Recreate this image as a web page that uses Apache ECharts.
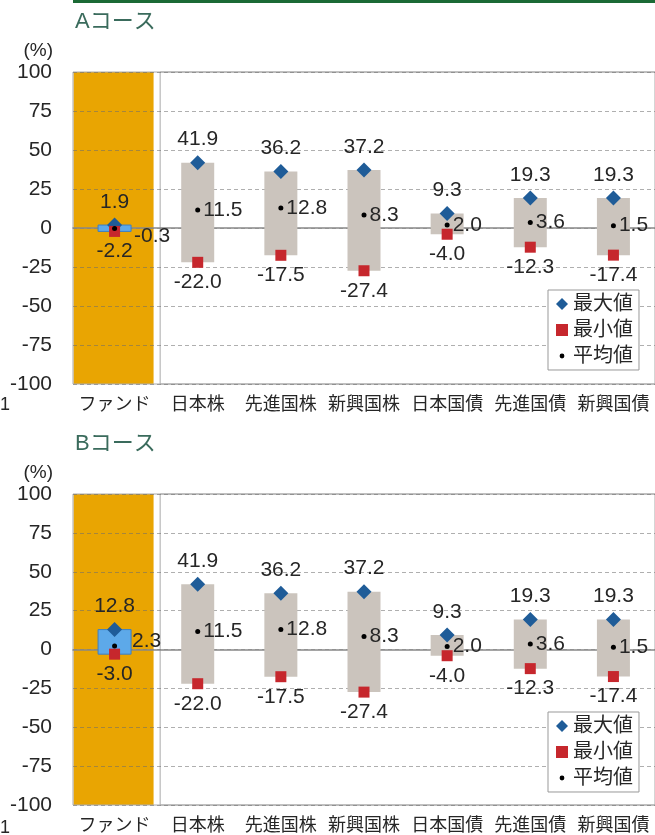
<!DOCTYPE html>
<html>
<head>
<meta charset="utf-8">
<script src="https://cdn.jsdelivr.net/npm/echarts@6/dist/echarts.min.js"></script>
<style>
  html, body { margin: 0; padding: 0; background: #fff; }
  #chart { width: 655px; height: 835px; }
</style>
</head>
<body>
<div id="chart"></div>
<script>
// カテゴリ
const categories = ['ファンド', '日本株', '先進国株', '新興国株', '日本国債', '先進国債', '新興国債']
// Aコース
const maxA = [1.9, 41.9, 36.2, 37.2, 9.3, 19.3, 19.3]
const minA = [-2.2, -22.0, -17.5, -27.4, -4.0, -12.3, -17.4]
const avgA = [-0.3, 11.5, 12.8, 8.3, 2.0, 3.6, 1.5]
// Bコース
const maxB = [12.8, 41.9, 36.2, 37.2, 9.3, 19.3, 19.3]
const minB = [-3.0, -22.0, -17.5, -27.4, -4.0, -12.3, -17.4]
const avgB = [2.3, 11.5, 12.8, 8.3, 2.0, 3.6, 1.5]

const FONT = '"Liberation Sans", "Noto Sans CJK JP", sans-serif'
const TXT = '#262626'
const fmt = p => Number(p.value).toFixed(1)
const dotIcon = 'path://M0,0h0.01v0.01h-0.01zM10,10h0.01v0.01h-0.01zM5,3a2,2 0 1 0 0.01,0z'

// 背景（ファンド列のオレンジ + 資産の枠）
const renderBack = (params, api) => {
    const i = api.value(0)
    const cs = params.coordSys
    const bw = api.size([1, 0])[0]
    if (i === 0) {
        const c = api.coord([0, 100]), b = api.coord([0, -100])
        return { type: 'rect', shape: { x: c[0] - 41, y: c[1], width: 80, height: b[1] - c[1] },
                 style: { fill: '#E9A502' } }
    }
    const x0 = api.coord([1, 0])[0] - bw / 2 + 4
    return { type: 'rect', shape: { x: x0, y: cs.y, width: cs.x + cs.width - x0 + 5, height: cs.height },
             style: { fill: 'none', stroke: '#aaa', lineWidth: 1 } }
}

// 最小〜最大のレンジ
const renderRange = (params, api) => {
    const i = api.value(0)
    const top = api.coord([i, api.value(2)])
    const bot = api.coord([i, api.value(1)])
    const fund = i === 0
    return { type: 'rect', shape: { x: top[0] - 16.5, y: top[1], width: 33, height: bot[1] - top[1] },
             style: fund ? { fill: '#5DA9E9', stroke: '#3F7FBF', lineWidth: 1 } : { fill: '#CBC4BD' } }
}

const makeSeries = (g, mx, mn, av, fundAvgOffset) => [
    { type: 'custom', xAxisIndex: g, yAxisIndex: g, z: -1, silent: true,
      renderItem: renderBack, data: [[0], [1]] },
    { type: 'custom', xAxisIndex: g, yAxisIndex: g, z: 1, silent: true,
      renderItem: renderRange, data: categories.map((c, i) => [i, mn[i], mx[i]]) },
    { name: '最大値', type: 'scatter', xAxisIndex: g, yAxisIndex: g, symbol: 'diamond', symbolSize: 15,
      itemStyle: { color: '#1F5C98', opacity: 1 }, z: 3,
      label: { show: true, position: 'top', distance: 5, formatter: fmt, fontSize: 21, color: TXT },
      data: mx },
    { name: '最小値', type: 'scatter', xAxisIndex: g, yAxisIndex: g, symbol: 'rect', symbolSize: 11,
      itemStyle: { color: '#C6272D', opacity: 1 }, z: 3,
      label: { show: true, position: 'bottom', distance: 4, formatter: fmt, fontSize: 21, color: TXT },
      data: mn },
    { name: '平均値', type: 'scatter', xAxisIndex: g, yAxisIndex: g, symbol: 'circle', symbolSize: 5,
      itemStyle: { color: '#000', opacity: 1 }, z: 4,
      label: { show: true, position: 'right', distance: 3, formatter: fmt, fontSize: 21, color: TXT },
      data: av.map((v, i) => i === 0 ? { value: v, label: { offset: fundAvgOffset } } : v) }
]

const grids = [
    { left: 73, top: 72, width: 583, height: 312 },
    { left: 73, top: 494, width: 583, height: 313 }
]

const xAxisOf = g => ({
    type: 'category', gridIndex: g, data: categories,
    axisTick: { show: false },
    axisLine: { onZero: true, lineStyle: { color: '#888', width: 1.5 } },
    axisLabel: { fontSize: 18, color: TXT, margin: 12, interval: 0 }
})
const yAxisOf = g => ({
    type: 'value', gridIndex: g, min: -100, max: 100, interval: 25,
    name: '(%)', nameLocation: 'end', nameGap: 12,
    nameTextStyle: { align: 'right', fontSize: 19, color: TXT, padding: [0, 20, 0, 0] },
    axisLine: { show: false }, axisTick: { show: false },
    axisLabel: { fontSize: 21, color: TXT, margin: 21 },
    splitLine: { lineStyle: { type: [4, 3], color: 'rgba(110,110,110,0.55)' } }
})
const legendAt = top => ({
    orient: 'vertical', left: 548, top,
    backgroundColor: '#fff', borderColor: '#999', borderWidth: 1,
    padding: [4, 6, 4, 8], itemGap: 6, itemWidth: 12, itemHeight: 12,
    textStyle: { fontSize: 20, color: TXT },
    data: [{ name: '最大値', icon: 'diamond' }, { name: '最小値', icon: 'rect' }, { name: '平均値', icon: dotIcon }]
})

const chart = echarts.init(document.getElementById('chart'), null, { renderer: 'canvas' })
chart.setOption({
    animation: false,
    textStyle: { fontFamily: FONT },
    grid: grids.map(g => Object.assign({ show: true, borderColor: '#aaa', borderWidth: 1 }, g)),
    xAxis: [xAxisOf(0), xAxisOf(1)],
    yAxis: [yAxisOf(0), yAxisOf(1)],
    legend: [legendAt(290), legendAt(712)],
    graphic: [
        { type: 'rect', shape: { x: 73, y: 0, width: 582, height: 3 }, style: { fill: '#1B6A35' } },
        { type: 'text', left: 75, top: 11, style: { text: 'Aコース', fontSize: 22, fill: '#3A6B5C', fontFamily: FONT } },
        { type: 'text', left: 75, top: 433, style: { text: 'Bコース', fontSize: 22, fill: '#3A6B5C', fontFamily: FONT } },
        { type: 'text', left: 0, top: 396, style: { text: '1', fontSize: 18, fill: TXT, fontFamily: FONT } },
        { type: 'text', left: 0, top: 819, style: { text: '1', fontSize: 18, fill: TXT, fontFamily: FONT } }
    ],
    series: [...makeSeries(0, maxA, minA, avgA, [14, 8]), ...makeSeries(1, maxB, minB, avgB, [12, -5])]
})
</script>
</body>
</html>
